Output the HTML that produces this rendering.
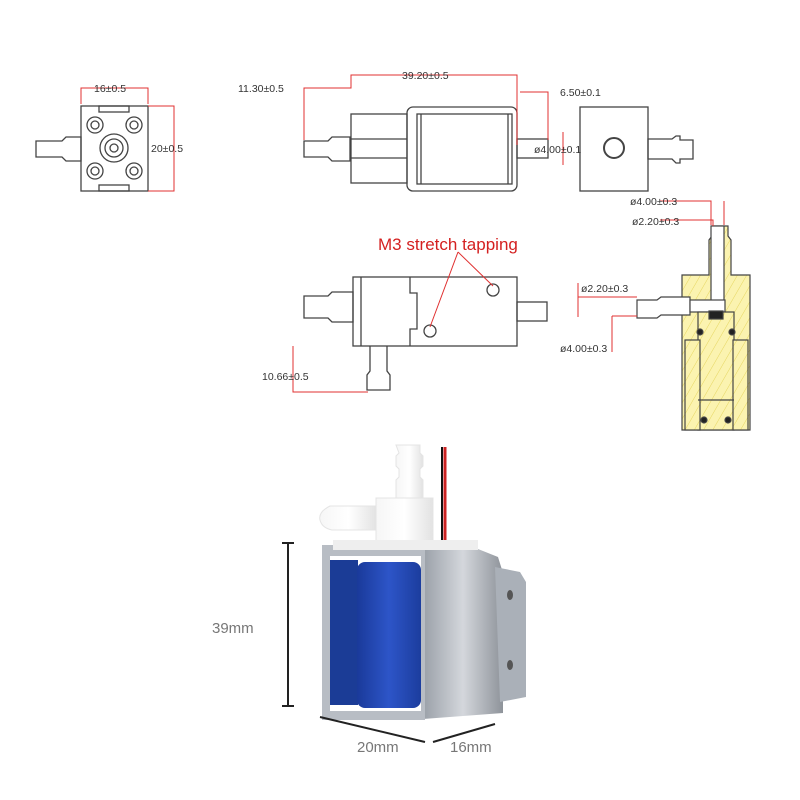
<!DOCTYPE html>
<html><head><meta charset="utf-8"><style>
body{margin:0;background:#fff}
svg{display:block}
text{font-family:"Liberation Sans",sans-serif}
</style></head><body>
<svg width="800" height="800" viewBox="0 0 800 800" xmlns="http://www.w3.org/2000/svg">
<defs>
<linearGradient id="metal" x1="0" x2="1"><stop offset="0" stop-color="#9aa0a8"/><stop offset="0.5" stop-color="#d4d7dc"/><stop offset="1" stop-color="#8e939a"/></linearGradient>
<linearGradient id="blue" x1="0" x2="1"><stop offset="0" stop-color="#1a3a9a"/><stop offset="0.5" stop-color="#2d55c8"/><stop offset="1" stop-color="#1c3d9e"/></linearGradient>
<linearGradient id="wh" x1="0" x2="1"><stop offset="0" stop-color="#f6f6f6"/><stop offset="0.5" stop-color="#fff"/><stop offset="1" stop-color="#e2e2e2"/></linearGradient>
<pattern id="hatch" width="8" height="8" patternUnits="userSpaceOnUse" patternTransform="rotate(30)"><rect width="8" height="8" fill="#fbf3b0"/><line x1="0" y1="0" x2="0" y2="8" stroke="#e6d660" stroke-width="1"/></pattern>
</defs>
<g fill="none" stroke="#444" stroke-width="1.3">
<path d="M36 141h26l4-4h15v24h-15l-4-4h-26z"/>
<rect x="81" y="106" width="67" height="85"/>
<rect x="99" y="106" width="30" height="6"/><rect x="99" y="185" width="30" height="6"/>
<circle cx="95" cy="125" r="8"/><circle cx="95" cy="125" r="4"/>
<circle cx="134" cy="125" r="8"/><circle cx="134" cy="125" r="4"/>
<circle cx="95" cy="171" r="8"/><circle cx="95" cy="171" r="4"/>
<circle cx="134" cy="171" r="8"/><circle cx="134" cy="171" r="4"/>
<circle cx="114" cy="148" r="14"/><circle cx="114" cy="148" r="9"/><circle cx="114" cy="148" r="4"/>
<path d="M304 141h24l4-4h18v24h-18l-4-4h-24z"/>
<rect x="351" y="114" width="56" height="69"/>
<line x1="351" y1="139" x2="407" y2="139"/><line x1="351" y1="158" x2="407" y2="158"/>
<rect x="407" y="107" width="110" height="84" rx="6"/>
<rect x="417" y="114" width="95" height="70"/>
<line x1="421" y1="114" x2="421" y2="184"/><line x1="508" y1="114" x2="508" y2="184"/>
<rect x="517" y="139" width="31" height="19"/>
<rect x="580" y="107" width="68" height="84"/>
<circle cx="614" cy="148" r="10" stroke-width="2"/>
<path d="M648 139h24l4-3h4v4h13v19h-13v4h-4l-4-4h-24z"/>
<path d="M304 296h24l4-4h21v30h-21l-4-4h-24z"/>
<rect x="353" y="277" width="164" height="69"/>
<path d="M410 277v16h7v36h-7v17"/>
<line x1="361" y1="277" x2="361" y2="346"/>
<rect x="517" y="302" width="30" height="19"/>
<path d="M370 346v25l-3 4v15h23v-15l-3-4v-25"/>
<circle cx="493" cy="290" r="6"/><circle cx="430" cy="331" r="6"/>
</g>
<g stroke="#444" stroke-width="1.2">
<path d="M682 275h27v-35l3-4v-10h16v10l3 4v35h19v155h-68z" fill="url(#hatch)"/>
<path d="M637 300h20l4-3h29v18h-29l-4 3h-20z" fill="#fff"/>
<rect x="711" y="226" width="13" height="86" fill="#fff"/>
<rect x="690" y="300" width="35" height="12" fill="#fff"/>
<rect x="698" y="312" width="36" height="118" fill="url(#hatch)"/>
<rect x="709" y="311" width="14" height="8" fill="#222"/>
<rect x="685" y="340" width="15" height="90" fill="url(#hatch)"/>
<rect x="733" y="340" width="15" height="90" fill="url(#hatch)"/>
<line x1="698" y1="400" x2="734" y2="400"/>
<circle cx="700" cy="332" r="3" fill="#222"/><circle cx="732" cy="332" r="3" fill="#222"/>
<circle cx="704" cy="420" r="3" fill="#222"/><circle cx="728" cy="420" r="3" fill="#222"/>
</g>
<g stroke="#e03030" stroke-width="1" fill="none">
<path d="M81 104V88h67v16"/><path d="M148 106h26v85h-26"/>
<path d="M304 140V88h47v-13h166v70"/>
<path d="M520 92h28v48"/>
<line x1="563" y1="132" x2="563" y2="165"/>
<path d="M660 201h51v24M660 220h53v6M724 201v24"/>
<path d="M578 283v34M578 297h59M612 316h25M612 316v36"/>
<path d="M458 252l35 34M458 252l-28 75"/>
<path d="M293 346v46h75"/>
</g>
<g font-size="10.5" fill="#333">
<text x="94" y="92">16±0.5</text>
<text x="151" y="152">20±0.5</text>
<text x="238" y="92">11.30±0.5</text>
<text x="402" y="79">39.20±0.5</text>
<text x="560" y="96">6.50±0.1</text>
<text x="534" y="153">ø4.00±0.1</text>
<text x="630" y="205">ø4.00±0.3</text>
<text x="632" y="225">ø2.20±0.3</text>
<text x="581" y="292">ø2.20±0.3</text>
<text x="560" y="352">ø4.00±0.3</text>
<text x="262" y="380">10.66±0.5</text>
</g>
<text x="378" y="250" font-size="17" fill="#d42020">M3 stretch tapping</text>
<!-- photo -->
<path d="M445 447v95" stroke="#c22" stroke-width="3"/><path d="M442 447v95" stroke="#111" stroke-width="2"/>
<path d="M396 445h24v8l3 3v10l-3 3v8l3 3v20h-27v-20l3-3v-8l-3-3v-10l3-3z" fill="url(#wh)" stroke="#e4e4e4"/>
<path d="M330 506q-12 6 -10 14q2 8 12 10h45v-24z" fill="url(#wh)" stroke="#e4e4e4"/>
<rect x="376" y="498" width="57" height="48" fill="url(#wh)" stroke="#e4e4e4"/>
<path d="M423 545l55 4 20 8 5 16v140l-80 6z" fill="url(#metal)"/>
<path d="M495 567l25 5 6 10v115l-26 5z" fill="#aab0b8"/>
<ellipse cx="510" cy="595" rx="3" ry="5" fill="#555"/><ellipse cx="510" cy="665" rx="3" ry="5" fill="#555"/>
<rect x="322" y="545" width="103" height="175" fill="#b8bdc4"/>
<rect x="330" y="556" width="91" height="155" fill="#fff"/>
<rect x="330" y="560" width="28" height="145" fill="#1b3c96"/>
<rect x="357" y="562" width="64" height="146" rx="8" fill="url(#blue)"/>
<rect x="333" y="540" width="145" height="10" fill="#eee"/>
<g stroke="#222" stroke-width="2"><path d="M288 543v163M282 543h12M282 706h12"/><path d="M320 717l105 25M433 742l62-18"/></g>
<g font-size="15" fill="#777"><text x="212" y="633">39mm</text><text x="357" y="752">20mm</text><text x="450" y="752">16mm</text></g>
</svg>
</body></html>
